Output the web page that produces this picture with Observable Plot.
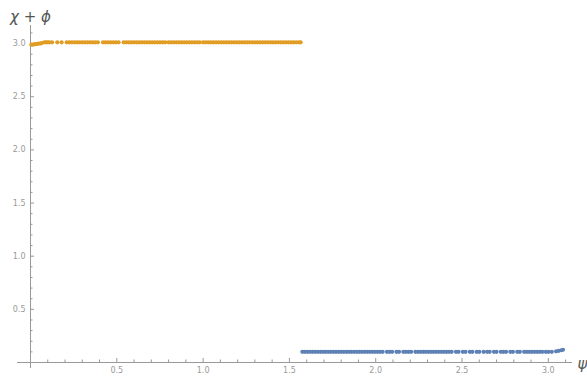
<!DOCTYPE html>
<html><head><meta charset="utf-8">
<script src="https://cdn.jsdelivr.net/npm/d3@7"></script>
<script src="https://cdn.jsdelivr.net/npm/@observablehq/plot@0.6"></script>
<style>body{margin:0;background:#fff}</style>
</head><body><div id="chart"></div>
<script>
// Series 1 (blue)
const blueX = [
  1.575,1.59,1.605,1.62,1.635,1.65,1.665,1.68,1.695,1.71,
  1.725,1.74,1.755,1.77,1.785,1.8,1.815,1.83,1.845,1.86,
  1.875,1.89,1.905,1.92,1.935,1.95,1.965,1.98,1.995,2.01,
  2.025,2.04,2.065,2.08,2.095,2.12,2.135,2.16,2.175,2.19,
  2.205,2.23,2.245,2.26,2.275,2.29,2.305,2.32,2.335,2.35,
  2.365,2.38,2.395,2.41,2.425,2.44,2.465,2.48,2.505,2.52,
  2.545,2.56,2.585,2.6,2.625,2.645,2.66,2.685,2.7,2.725,
  2.74,2.755,2.78,2.795,2.82,2.835,2.86,2.875,2.89,2.905,
  2.92,2.935,2.95,2.965,2.985,3.0,3.02,3.045,3.06,3.075,
  3.085
];
const blueY = [
  0.1,0.1,0.1,0.1,0.1,0.1,0.1,0.1,0.1,0.1,
  0.1,0.1,0.1,0.1,0.1,0.1,0.1,0.1,0.1,0.1,
  0.1,0.1,0.1,0.1,0.1,0.1,0.1,0.1,0.1,0.1,
  0.1,0.1,0.1,0.1,0.1,0.1,0.1,0.1,0.1,0.1,
  0.1,0.1,0.1,0.1,0.1,0.1,0.1,0.1,0.1,0.1,
  0.1,0.1,0.1,0.1,0.1,0.1,0.1,0.1,0.1,0.1,
  0.1,0.1,0.1,0.1,0.1,0.1,0.1,0.1,0.1,0.1,
  0.1,0.1,0.1,0.1,0.1,0.1,0.1,0.1,0.1,0.1,
  0.1,0.1,0.1,0.1,0.1,0.1,0.1,0.105,0.11,0.115,
  0.12
];
// Series 2 (orange)
const orangeX = [
  0.005,0.015,0.025,0.035,0.045,0.055,0.065,0.08,0.09,0.1,
  0.11,0.125,0.155,0.18,0.21,0.225,0.24,0.255,0.27,0.285,
  0.3,0.315,0.33,0.345,0.36,0.375,0.39,0.42,0.435,0.45,
  0.465,0.48,0.495,0.51,0.54,0.555,0.57,0.585,0.6,0.615,
  0.63,0.645,0.66,0.675,0.69,0.705,0.72,0.735,0.75,0.765,
  0.78,0.8,0.815,0.83,0.845,0.86,0.875,0.89,0.905,0.92,
  0.935,0.95,0.965,0.98,1.0,1.015,1.03,1.045,1.06,1.075,
  1.09,1.105,1.12,1.135,1.15,1.165,1.18,1.195,1.21,1.225,
  1.24,1.255,1.27,1.285,1.3,1.315,1.33,1.345,1.36,1.375,
  1.39,1.405,1.42,1.435,1.45,1.465,1.48,1.495,1.51,1.525,
  1.54,1.555,1.565
];
const orangeY = [
  2.99,2.99,2.995,2.995,3.0,3.0,3.005,3.012,3.012,3.012,
  3.012,3.012,3.012,3.012,3.012,3.012,3.012,3.012,3.012,3.012,
  3.012,3.012,3.012,3.012,3.012,3.012,3.012,3.012,3.012,3.012,
  3.012,3.012,3.012,3.012,3.012,3.012,3.012,3.012,3.012,3.012,
  3.012,3.012,3.012,3.012,3.012,3.012,3.012,3.012,3.012,3.012,
  3.012,3.012,3.012,3.012,3.012,3.012,3.012,3.012,3.012,3.012,
  3.012,3.012,3.012,3.012,3.012,3.012,3.012,3.012,3.012,3.012,
  3.012,3.012,3.012,3.012,3.012,3.012,3.012,3.012,3.012,3.012,
  3.012,3.012,3.012,3.012,3.012,3.012,3.012,3.012,3.012,3.012,
  3.012,3.012,3.012,3.012,3.012,3.012,3.012,3.012,3.012,3.012,
  3.012,3.012,3.012
];
const xMajorTicks = [0.5, 1.0, 1.5, 2.0, 2.5, 3.0];
const xMinorTicks = [0.1,0.2,0.3,0.4,0.6,0.7,0.8,0.9,1.1,1.2,1.3,1.4,1.6,1.7,1.8,1.9,2.1,2.2,2.3,2.4,2.6,2.7,2.8,2.9,3.1];
const yMajorTicks = [0.5, 1.0, 1.5, 2.0, 2.5, 3.0];
const yMinorTicks = [0.1,0.2,0.3,0.4,0.6,0.7,0.8,0.9,1.1,1.2,1.3,1.4,1.6,1.7,1.8,1.9,2.1,2.2,2.3,2.4,2.6,2.7,2.8,2.9,3.1];
const xLabel = "ψ";
const yLabel = "χ + ϕ";
const colors = ["#5E81B5", "#E19C24"];

const blue = blueX.map((x, i) => ({x, y: blueY[i]}));
const orange = orangeX.map((x, i) => ({x, y: orangeY[i]}));
const axisColor = "#999";
const fmt = d3.format(".1f");

const chart = Plot.plot({
  width: 587, height: 380,
  marginLeft: 30, marginRight: 15, marginTop: 25, marginBottom: 18,
  x: {domain: [0, 3.14]},
  y: {domain: [0, 3.17]},
  style: {fontFamily: "DejaVu Sans", fontSize: "8px", color: "#999", background: "white", overflow: "visible"},
  marks: [
    Plot.ruleY([0], {stroke: axisColor, insetLeft: -13}),
    Plot.ruleX([0], {stroke: axisColor, insetBottom: -6}),
    Plot.axisX(xMajorTicks, {tickSize: -4, tickPadding: 9, tickFormat: fmt, stroke: axisColor, fill: "#999", label: null}),
    Plot.axisX(xMinorTicks, {tickSize: -2.5, tickFormat: () => "", stroke: axisColor, label: null}),
    Plot.axisY(yMajorTicks, {tickSize: -4, tickPadding: 9, tickFormat: fmt, stroke: axisColor, fill: "#999", label: null}),
    Plot.axisY(yMinorTicks, {tickSize: -2.5, tickFormat: () => "", stroke: axisColor, label: null}),
    Plot.dot(blue, {x: "x", y: "y", r: 2.1, fill: colors[0]}),
    Plot.dot(orange, {x: "x", y: "y", r: 2.1, fill: colors[1]}),
    Plot.text([yLabel], {text: d => d, frameAnchor: "top-left", dy: -14, textAnchor: "middle", fontSize: 15, fill: "#555", fontStyle: "italic"}),
    Plot.text([xLabel], {text: d => d, frameAnchor: "bottom-right", dx: 5, dy: 6, textAnchor: "start", fontSize: 15, fill: "#555", fontStyle: "italic"})
  ]
});
document.getElementById("chart").appendChild(chart);
</script>
</body></html>
